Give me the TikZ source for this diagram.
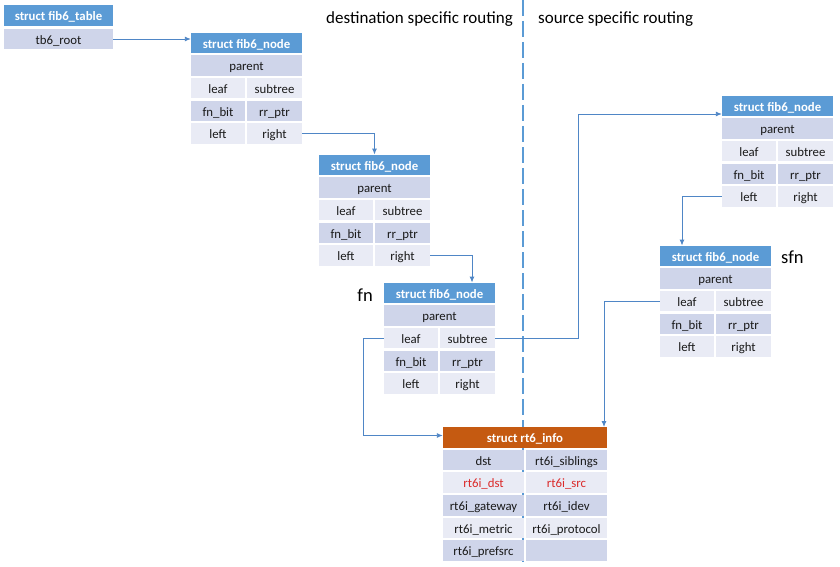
\documentclass[tikz,border=0pt]{standalone}
\usepackage{fontspec}
\setmainfont{Carlito}
\usetikzlibrary{arrows.meta}
\definecolor{hdrblue}{HTML}{5B9BD5}
\definecolor{hdrorange}{HTML}{C55A11}
\definecolor{rowdark}{HTML}{CFD5EA}
\definecolor{rowlight}{HTML}{E9EBF5}
\definecolor{linkblue}{HTML}{4F86C6}
\definecolor{redtxt}{HTML}{DB2B2B}
\tikzset{
  cellbase/.style={inner sep=0pt, minimum height=20.5pt, text height=10.5pt, text depth=0pt, font=\fontsize{12.8}{14}\selectfont, text=black!90},
  hdr/.style={cellbase, fill=hdrblue, text=white, font=\fontsize{12.8}{14}\selectfont\bfseries},
  hdro/.style={hdr, fill=hdrorange},
  darkcell/.style={cellbase, fill=rowdark},
  lightcell/.style={cellbase, fill=rowlight},
  link/.style={draw=linkblue, line width=0.9pt, -{Latex[length=6pt,width=5pt]}},
  divider/.style={draw=hdrblue, line width=2pt, dash pattern=on 16pt off 5pt},
  heading/.style={font=\fontsize{17}{20}\selectfont, inner sep=0pt},
  tag/.style={font=\fontsize{18.5}{21}\selectfont, inner sep=0pt}
}
\newcommand\fibnode[3]{%
  \node[hdr, minimum width=111pt] (#1h) at (#2+55.5,#3) {struct fib6\_node};
  \node[darkcell, minimum width=111pt] (#1parent) at (#2+55.5,#3+22.6) {parent};
  \node[lightcell, minimum width=54pt] (#1leaf) at (#2+27,#3+45.2) {leaf};
  \node[lightcell, minimum width=55pt] (#1subtree) at (#2+83.5,#3+45.2) {subtree};
  \node[darkcell, minimum width=54pt] (#1fnbit) at (#2+27,#3+67.8) {fn\_bit};
  \node[darkcell, minimum width=55pt] (#1rrptr) at (#2+83.5,#3+67.8) {rr\_ptr};
  \node[lightcell, minimum width=54pt] (#1left) at (#2+27,#3+90.4) {left};
  \node[lightcell, minimum width=55pt] (#1right) at (#2+83.5,#3+90.4) {right};
}
\begin{document}
\begin{tikzpicture}[x=1pt,y=-1pt]
\useasboundingbox[fill=white] (0,0) rectangle (840,567);

% divider
\draw[divider] (522.5,0) -- (522.5,567);

% headings
\node[heading, anchor=east] (hdst) at (513,19) {destination specific routing};
\node[heading, anchor=west] (hsrc) at (538,19) {source specific routing};

% fib6_table
\node[hdr, minimum width=109pt] (tabh) at (58.5,15.5) {struct fib6\_table};
\node[darkcell, minimum width=109pt] (tabroot) at (58.5,39) {tb6\_root};

% fib6 nodes
\fibnode{na}{191}{43}
\fibnode{nb}{319}{165}
\fibnode{nc}{384}{293}
\fibnode{nd}{722}{106}
\fibnode{ne}{660}{256}

\node[tag, anchor=east] (fn) at (373,295) {fn};
\node[tag, anchor=west] (sfn) at (781,257) {sfn};

% rt6_info
\node[hdro, minimum width=164pt] (rth) at (525,437.5) {struct rt6\_info};
\node[darkcell, minimum width=81pt] (rdst) at (483.5,460.1) {dst};
\node[darkcell, minimum width=81pt] (rsib) at (566.5,460.1) {rt6i\_siblings};
\node[lightcell, minimum width=81pt, text=redtxt] (rrdst) at (483.5,482.7) {rt6i\_dst};
\node[lightcell, minimum width=81pt, text=redtxt] (rrsrc) at (566.5,482.7) {rt6i\_src};
\node[darkcell, minimum width=81pt] (rgw) at (483.5,505.3) {rt6i\_gateway};
\node[darkcell, minimum width=81pt] (ridev) at (566.5,505.3) {rt6i\_idev};
\node[lightcell, minimum width=81pt] (rmet) at (483.5,527.9) {rt6i\_metric};
\node[lightcell, minimum width=81pt] (rproto) at (566.5,527.9) {rt6i\_protocol};
\node[darkcell, minimum width=81pt] (rpref) at (483.5,550.5) {rt6i\_prefsrc};
\node[darkcell, minimum width=81pt] (rempty) at (566.5,550.5) {};

% connectors
\draw[link] (tabroot.east) -- (nah.west |- tabroot.east);
\draw[link] (naright.east) -| (nbh.north);
\draw[link] (nbright.east) -| ([xshift=32.5pt]nch.north);
\draw[link] (ncsubtree.east) -- ++(83,0) |- ([yshift=-8pt]ndh.west);
\draw[link] (ndleft.west) -| ([xshift=-33.5pt]neh.north);
\draw[link] (neleaf.west) -| ([xshift=79pt]rth.north);
\draw[link] (ncleaf.west) -- ++(-20,0) |- ([yshift=2pt]rth.west);
\end{tikzpicture}
\end{document}
